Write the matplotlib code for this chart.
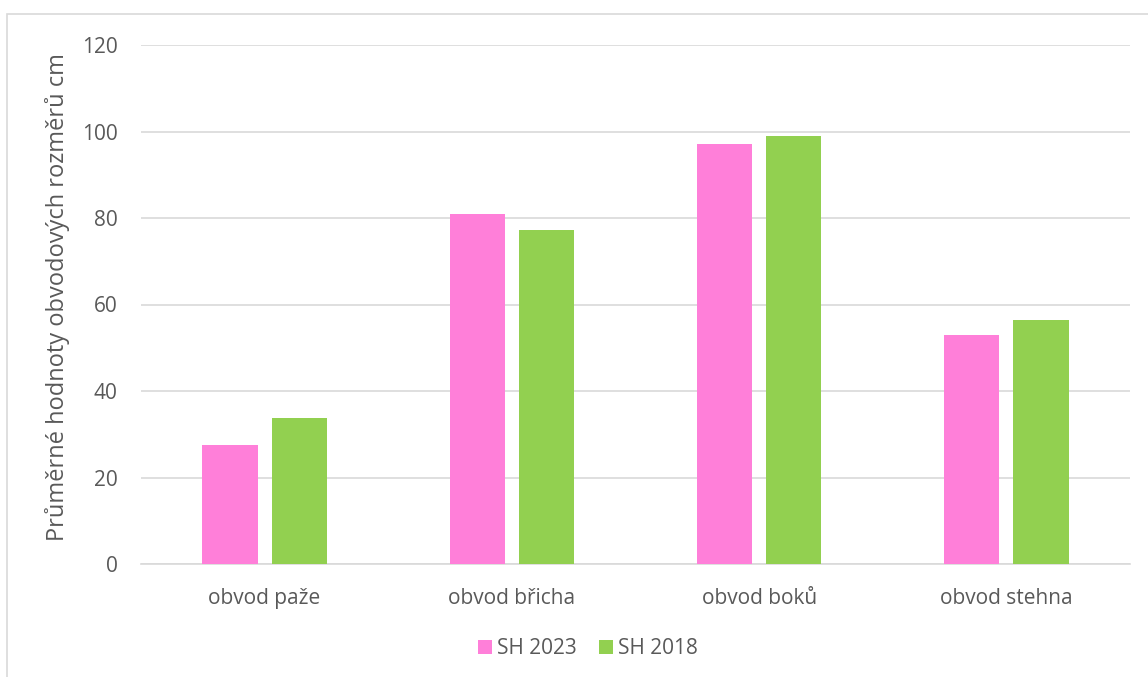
import matplotlib.pyplot as plt
from matplotlib.patches import Rectangle
import numpy as np

# Chart data
categories = ["obvod paže", "obvod břicha", "obvod boků", "obvod stehna"]
sh_2023 = [27.4, 80.9, 97.0, 52.9]
sh_2018 = [33.8, 77.2, 98.9, 56.4]
y_ticks = [0, 20, 40, 60, 80, 100, 120]

plt.rcParams['font.family'] = ['Open Sans', 'DejaVu Sans']
text_color = "#595959"
grid_color = "#D9D9D9"

fig = plt.figure(figsize=(11.48, 6.77), dpi=100)
ax = fig.add_axes([141 / 1148, 1 - 564 / 677, (1130 - 141) / 1148, (564 - 45) / 677])

# Outer chart frame (cropped on the right and bottom)
fig.patches.append(Rectangle((7 / 1148, -0.2), 1.5, 1.2 - 14 / 677, transform=fig.transFigure,
                             fill=False, edgecolor=grid_color, linewidth=1.2))

x = np.arange(len(categories))
bar_width = 0.223
gap = 0.057
ax.bar(x - (bar_width + gap) / 2, sh_2023, width=bar_width, color="#FF7FD9", label="SH 2023", zorder=3)
ax.bar(x + (bar_width + gap) / 2, sh_2018, width=bar_width, color="#92D050", label="SH 2018", zorder=3)

ax.set_xlim(-0.5, len(categories) - 0.5)
ax.set_ylim(0, 120)
ax.set_yticks(y_ticks)
ax.set_xticks(x)
ax.set_xticklabels(categories)
ax.tick_params(axis="both", length=0, labelsize=15, colors=text_color)
ax.tick_params(axis="x", pad=17)
ax.tick_params(axis="y", pad=17)

ax.grid(axis="y", color=grid_color, linewidth=1.2, zorder=0)
for side in ["top", "right", "left"]:
    ax.spines[side].set_visible(False)
ax.spines["bottom"].set_color(grid_color)
ax.spines["bottom"].set_linewidth(1.2)

ax.set_ylabel("Průměrné hodnoty obvodových rozměrů cm", fontsize=17, color=text_color)
ax.yaxis.set_label_coords(-0.072, 0.515)

leg = ax.legend(loc="center", bbox_to_anchor=(0.452, -0.163), ncol=2, frameon=False,
                fontsize=15, handlelength=0.65, handleheight=0.65, handletextpad=0.25,
                columnspacing=1.1)
for t in leg.get_texts():
    t.set_color(text_color)

fig.savefig("out.png", dpi=100)
